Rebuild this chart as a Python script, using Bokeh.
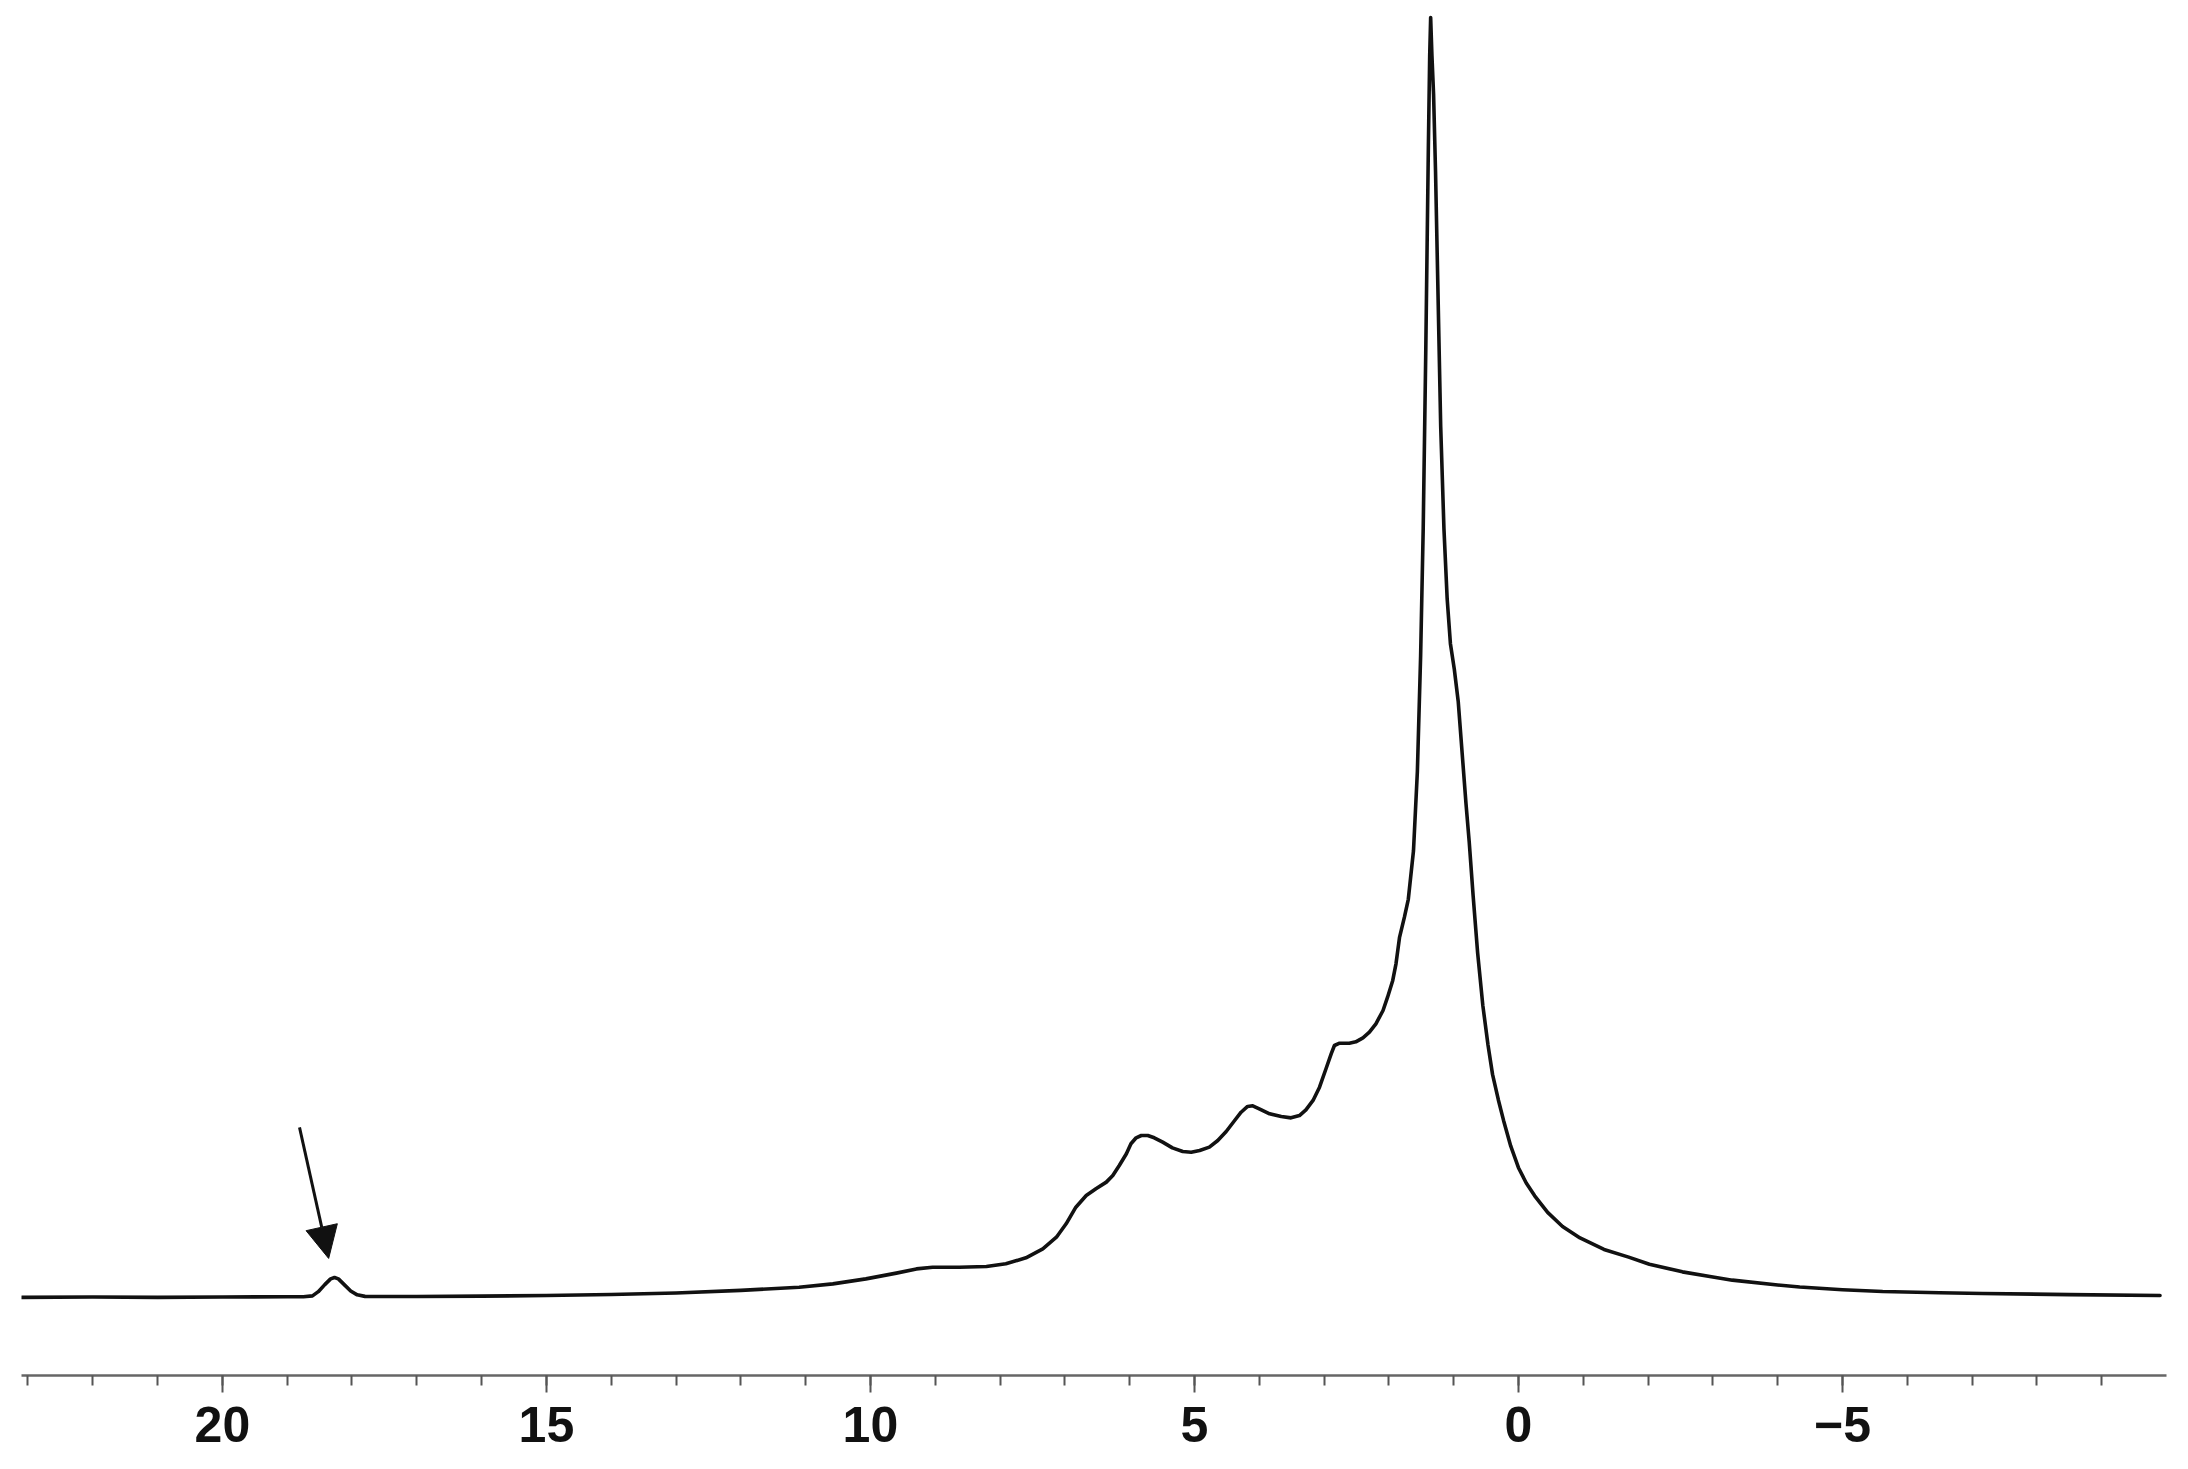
from bokeh.plotting import figure
from bokeh.models import Range1d, FixedTicker, Arrow, NormalHead, ColumnDataSource
from bokeh.embed import file_html
from bokeh.resources import INLINE

# Chemical shift (ppm) and intensity (peak = 100)
shift_ppm = [23.1, 22.0, 21.0, 20.0, 19.0, 18.75, 18.61, 18.52, 18.42, 18.33, 18.27,
             18.21, 18.12, 18.02, 17.92, 17.8, 17.0, 16.0, 15.0, 14.0, 13.0, 12.0,
             11.1, 10.58, 10.07, 9.6, 9.29, 9.04, 8.63, 8.21, 7.91, 7.6, 7.34, 7.13,
             6.98, 6.83, 6.67, 6.52, 6.36, 6.26, 6.16, 6.05, 5.98, 5.9, 5.82, 5.72,
             5.62, 5.49, 5.34, 5.18, 5.05, 4.92, 4.77, 4.64, 4.51, 4.38, 4.28, 4.18,
             4.10, 4.0, 3.84, 3.66, 3.51, 3.38, 3.28, 3.17, 3.07, 2.97, 2.89, 2.84,
             2.76, 2.61, 2.51, 2.40, 2.30, 2.20, 2.09, 2.02, 1.94, 1.89, 1.836, 1.76,
             1.70, 1.62, 1.56, 1.51, 1.47, 1.43, 1.39, 1.37, 1.355, 1.335, 1.31,
             1.28, 1.24, 1.20, 1.15, 1.10, 1.05, 0.99, 0.93, 0.87, 0.81, 0.76, 0.70,
             0.63, 0.55, 0.47, 0.40, 0.31, 0.23, 0.12, 0.0, -0.12, -0.25, -0.45,
             -0.68, -0.95, -1.32, -1.7, -2.02, -2.53, -3.0, -3.3, -4.0, -4.34, -5.0,
             -5.62, -6.5, -7.16, -8.5, -9.9]
intensity = [-0.15, -0.12, -0.15, -0.12, -0.1, -0.1, -0.03, 0.3, 0.85, 1.3, 1.41,
             1.3, 0.85, 0.35, 0.05, -0.07, -0.08, -0.05, 0.0, 0.08, 0.2, 0.4,
             0.65, 0.91, 1.3, 1.75, 2.08, 2.21, 2.21, 2.27, 2.48, 2.95, 3.65, 4.56,
             5.61, 6.91, 7.82, 8.35, 8.87, 9.39, 10.17, 11.09, 11.87, 12.34, 12.52, 12.52,
             12.34, 12.0, 11.55, 11.27, 11.21, 11.35, 11.61, 12.13, 12.83, 13.69, 14.34, 14.79,
             14.84, 14.61, 14.22, 14.01, 13.9, 14.08, 14.53, 15.26, 16.3, 17.74, 18.91, 19.56,
             19.74, 19.74, 19.85, 20.16, 20.6, 21.26, 22.3, 23.34, 24.65, 25.95, 28.0, 29.6,
             31.0, 34.8, 41.0, 50.0, 60.0, 74.0, 90.0, 97.0, 100.0, 97.0, 94.0,
             88.0, 78.0, 68.0, 60.0, 54.5, 51.0, 49.0, 46.5, 42.5, 38.5, 35.5, 31.3,
             26.8, 22.7, 19.6, 17.3, 15.3, 13.7, 11.7, 10.0, 8.8, 7.8, 6.5,
             5.4, 4.5, 3.6, 3.0, 2.45, 1.85, 1.45, 1.2, 0.82, 0.66, 0.45,
             0.31, 0.22, 0.16, 0.07, 0.0]

tick_values = [20, 15, 10, 5, 0, -5]
tick_labels = ["20", "15", "10", "5", "0", "\u22125"]
minor_values = list(range(23, -10, -1))

# arrow marking the small peak (start and tip, in ppm / intensity)
arrow_start = (18.81, 13.15)
arrow_tip = (18.36, 2.9)

src = ColumnDataSource(data=dict(x=shift_ppm, y=intensity))

p = figure(width=2172, height=1467, output_backend="svg", toolbar_location=None,
           x_range=Range1d(23.1, -10.0), y_range=Range1d(-6.26, 100.7),
           y_axis_location=None, min_border_left=21, min_border_right=6,
           min_border_top=8, min_border_bottom=92)
p.outline_line_color = None
p.xgrid.visible = False
p.ygrid.visible = False
p.background_fill_color = "white"
p.border_fill_color = "white"

p.line("x", "y", source=src, line_color="#111111", line_width=3.6,
       line_join="round", line_cap="round")

p.add_layout(Arrow(x_start=arrow_start[0], y_start=arrow_start[1],
                   x_end=arrow_tip[0], y_end=arrow_tip[1],
                   line_color="#111111", line_width=3,
                   end=NormalHead(size=32, fill_color="#111111", line_color="#111111",
                                  line_width=1)))

ax = p.xaxis[0]
ax.ticker = FixedTicker(ticks=tick_values, minor_ticks=minor_values)
ax.major_label_overrides = {v: l for v, l in zip(tick_values, tick_labels)}
ax.axis_line_color = "#666666"
ax.axis_line_width = 2.5
ax.major_tick_line_color = "#555555"
ax.major_tick_line_width = 2
ax.minor_tick_line_color = "#555555"
ax.minor_tick_line_width = 2
ax.major_tick_out = 17
ax.major_tick_in = 0
ax.minor_tick_out = 10
ax.minor_tick_in = 0
ax.major_label_standoff = 14
ax.major_label_text_font = "Liberation Sans"
ax.major_label_text_font_style = "bold"
ax.major_label_text_font_size = "50px"
ax.major_label_text_color = "#111111"

open("out.html", "w").write(file_html(p, INLINE))
